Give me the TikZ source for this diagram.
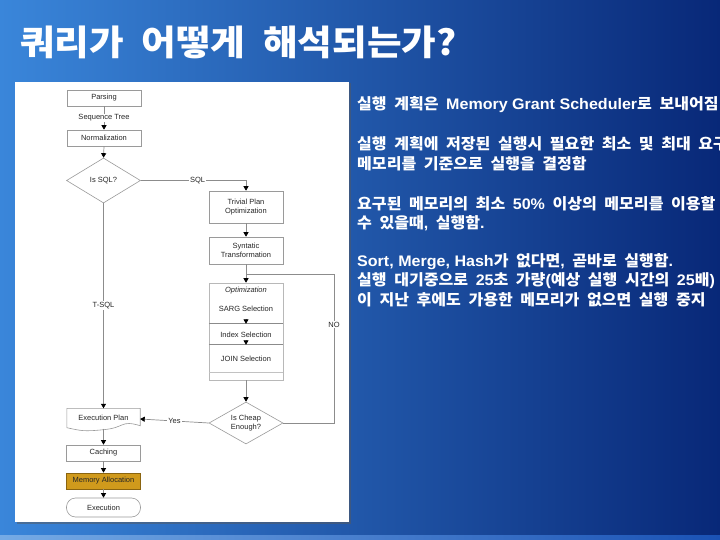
\documentclass[tikz,border=0pt]{standalone}
\usepackage{fontspec}
\setmainfont{Liberation Sans}
\newfontfamily\krfont{Noto Sans CJK KR}[WordSpace=2.05]
\usetikzlibrary{shapes.geometric,arrows.meta,calc}

\definecolor{bgL}{HTML}{3A86DA}
\definecolor{bgM}{HTML}{1A52B5}
\definecolor{bgR}{HTML}{082878}
\definecolor{linegray}{HTML}{8C8C8C}
\definecolor{boxgray}{HTML}{9A9A9A}
\definecolor{memfill}{HTML}{D09A1C}
\definecolor{memdraw}{HTML}{8A6410}

\newcommand\fsmall{\fontsize{7.5}{8.6}\selectfont}
\newcommand\rtxtfont{\krfont\bfseries\fontsize{15.3}{18}\selectfont}
\newcommand\ttlfont{\krfont\bfseries\fontsize{35}{38}\selectfont}
\newcommand\lt[1]{{\rmfamily #1}}

\begin{document}
\begin{tikzpicture}[x=1pt,y=-1pt,
  box/.style={draw=boxgray, line width=0.6pt, fill=white, minimum width=74pt,
    minimum height=16pt, inner sep=0pt, font=\fsmall, text=black!85, align=center},
  dia/.style={diamond, draw=boxgray, line width=0.6pt, fill=white, minimum width=74pt,
    minimum height=45pt, inner sep=0pt, aspect=1.64, font=\fsmall, text=black!85, align=center},
  plain/.style={inner sep=0pt, font=\fsmall, text=black!85, align=center},
  conn/.style={draw=linegray, line width=0.7pt},
  arr/.style={conn, -{Triangle[color=black,width=5pt,length=4.5pt]}},
  lbl/.style={fill=white, inner sep=1pt, font=\fsmall, text=black!85},
  rtext/.style={anchor=west, inner sep=0pt, text=white, font=\rtxtfont, xscale=1.05, transform shape},
]
\useasboundingbox (0,0) rectangle (720,540);
\begin{scope}
\clip (0,0) rectangle (720,540);
% background
\shade[left color=bgL, middle color=bgM, right color=bgR] (0,0) rectangle (720,540);
\shade[left color=bgL!70!white, right color=bgM] (0,535) rectangle (720,540);

% title
\node[anchor=west, inner sep=0pt, text=white, font=\ttlfont, xscale=1.075, transform shape] (title) at (20,42) {쿼리가 어떻게 해석되는가?};

% panel
\fill[gray!70!black, opacity=0.5] (16.5,83.5) rectangle (350.5,523.5);
\fill[white] (15,82) rectangle (349,522);

% flowchart nodes
\node[box] (parse) at (104,98) {Parsing};
\node[box] (norm) at (104,138) {Normalization};
\node[dia] (issql) at (103.5,180.5) {Is SQL?};
\node[box, minimum height=32pt] (trivial) at (246,207) {Trivial Plan\\Optimization};
\node[box, minimum height=27pt] (syn) at (246,250.5) {Syntatic\\Transformation};
\node[draw=boxgray!70, line width=0.6pt, fill=white, minimum width=74pt, minimum height=97pt, inner sep=0pt] (opt) at (246,331.5) {};
\node[plain, font=\fsmall\itshape] (optl) at (246,291) {Optimization};
\node[plain] (sarg) at (246,309) {SARG Selection};
\node[plain, minimum width=74pt, minimum height=21pt] (index) at (246,334.5) {Index Selection};
\node[plain, minimum width=74pt, minimum height=27pt] (join) at (246,358.5) {JOIN Selection};
\draw[boxgray!90!black, line width=0.7pt] (index.north west) -- (index.north east);
\draw[boxgray!90!black, line width=0.7pt] (join.north west) -- (join.north east);
\draw[boxgray!60, line width=0.6pt] (join.south west) -- (join.south east);
\draw[arr] ([yshift=5pt]index.north) -- (index.north);
\draw[arr] ([yshift=5pt]join.north) -- (join.north);
\node[dia, minimum height=42pt, aspect=1.76] (cheap) at (246,423) {Is Cheap\\Enough?};

% execution plan (document shape)
\node[plain, minimum width=73pt, minimum height=21pt] (epl) at (103.5,419) {};
\draw[boxgray, line width=0.6pt, fill=white]
  (epl.north west) -- (epl.north east) -- ($(epl.south east)+(0,-4)$)
  .. controls +(-20,-6) and +(22,-2) .. ($(epl.south)+(0,0)$)
  .. controls +(-20,2) and +(14,3) .. ($(epl.south west)+(0,-2)$) -- cycle;
\node[plain] at ($(epl.center)+(0,-1)$) {Execution Plan};
\node[box] (cache) at (103.5,453) {Caching};
\node[box, fill=memfill, draw=memdraw] (mem) at (103.5,481) {Memory Allocation};
\node[box, rounded corners=9pt, minimum height=19pt] (exec) at (103.5,507.5) {Execution};

% connectors
\coordinate (nob) at (246,274);
\coordinate (nor) at (334,274);
\draw[arr] (parse.south) -- node[lbl]{Sequence Tree} (norm.north);
\draw[arr] (norm.south) -- (issql.north);
\draw[arr] (issql.east) -| node[lbl, pos=0.27]{SQL} (trivial.north);
\draw[arr] (trivial.south) -- (syn.north);
\draw[arr] (syn.south) -- (opt.north);
\draw[arr] (opt.south) -- (cheap.north);
\draw[conn] (cheap.east) -| node[lbl, pos=0.83]{NO} (nor) -- (nob);
\draw[arr] (cheap.west) -- node[lbl]{Yes} (epl.east);
\draw[arr] (issql.south) -- node[lbl]{T-SQL} (epl.north);
\draw[arr] ($(epl.south)+(0,-1)$) -- (cache.north);
\draw[arr] (cache.south) -- (mem.north);
\draw[arr] (mem.south) -- (exec.north);

% right text
\node[rtext] (l1) at (357,105) {실행 계획은 \lt{Memory Grant Scheduler}로 보내어짐};
\node[rtext] (l2) at (357,144) {실행 계획에 저장된 실행시 필요한 최소 및 최대 요구};
\node[rtext] (l3) at (357,164) {메모리를 기준으로 실행을 결정함};
\node[rtext] (l4) at (357,204) {요구된 메모리의 최소 \lt{50\%} 이상의 메모리를 이용할};
\node[rtext] (l5) at (357,223) {수 있을때\lt{,} 실행함\lt{.}};
\node[rtext] (l6) at (357,262) {\lt{Sort, Merge, Hash}가 없다면\lt{,} 곧바로 실행함\lt{.}};
\node[rtext] (l7) at (357,281) {실행 대기중으로 \lt{25}초 가량\lt{(}예상 실행 시간의 \lt{25}배\lt{)}};
\node[rtext] (l8) at (357,300) {이 지난 후에도 가용한 메모리가 없으면 실행 중지};
\end{scope}
\end{tikzpicture}
\end{document}
